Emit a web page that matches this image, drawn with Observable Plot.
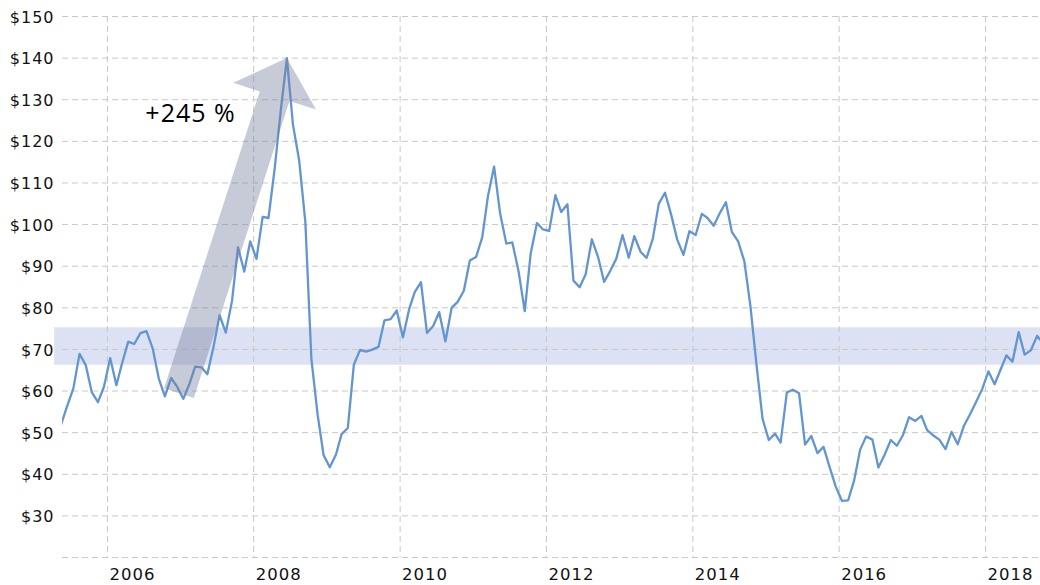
<!DOCTYPE html>
<html>
<head>
<meta charset="utf-8">
<script src="https://cdn.jsdelivr.net/npm/d3@7"></script>
<script src="https://cdn.jsdelivr.net/npm/@observablehq/plot@0.6"></script>
<style>
  html, body { margin: 0; padding: 0; background: #fff; }
  #chart { width: 1040px; height: 585px; }
</style>
</head>
<body>
<div id="chart"></div>
<script>
// Monthly closing price, first value = May 2005, last = Oct 2018
const firstMonth = [2005, 4];
const prices = [
  51.97, 56.50, 60.57, 68.94, 66.24, 59.76, 57.32, 61.04,
  67.92, 61.41, 66.63, 71.88, 71.29, 73.93, 74.40, 70.26, 62.91, 58.73, 63.13, 61.05,
  58.14, 61.79, 65.87, 65.71, 64.01, 70.68, 78.21, 74.04, 81.66, 94.53, 88.71, 95.98,
  91.75, 101.84, 101.58, 113.46, 127.35, 140.00, 124.08, 115.46, 100.64, 67.81, 54.43, 44.60,
  41.68, 44.76, 49.66, 51.12, 66.31, 69.89, 69.45, 69.96, 70.61, 77.00, 77.28, 79.36,
  72.89, 79.66, 83.76, 86.15, 73.97, 75.63, 78.95, 71.92, 79.97, 81.43, 84.11, 91.38,
  92.19, 96.97, 106.72, 113.93, 102.70, 95.42, 95.70, 88.81, 79.20, 93.19, 100.36, 98.83,
  98.48, 107.07, 103.02, 104.87, 86.53, 84.96, 88.06, 96.47, 92.19, 86.24, 88.91, 91.82,
  97.49, 92.05, 97.23, 93.46, 91.97, 96.56, 105.03, 107.65, 102.33, 96.38, 92.72, 98.42,
  97.49, 102.59, 101.58, 99.74, 102.71, 105.37, 98.17, 95.96, 91.16, 80.54, 66.15, 53.27,
  48.24, 49.76, 47.60, 59.63, 60.30, 59.47, 47.12, 49.20, 45.09, 46.59, 41.65, 37.04,
  33.62, 33.75, 38.34, 45.92, 49.10, 48.33, 41.60, 44.70, 48.24, 46.86, 49.44, 53.72,
  52.81, 54.01, 50.60, 49.33, 48.32, 46.04, 50.17, 47.23, 51.67, 54.38, 57.40, 60.46,
  64.73, 61.64, 64.94, 68.57, 67.04, 74.15, 68.76, 69.80, 73.25, 71.50
];
const yearTicks = [2006, 2008, 2010, 2012, 2014, 2016, 2018];
const priceLabels = [30, 40, 50, 60, 70, 80, 90, 100, 110, 120, 130, 140, 150];
const priceGrid = [20, ...priceLabels];
const xDomain = ["2005-05-22", "2018-10-02"];
const yDomain = [20, 150];
const band = { from: "2005-04-13", to: "2018-10-02", low: 66.2, high: 75.2 };
const arrowTail = { date: "2006-12-24", price: 59.5 };
const annotation = { date: "2007-02-20", price: 126.6, text: "+245 %" };

const W = 1040, H = 585, mL = 62, mR = 0, mT = 16, mB = 28;

const data = prices.map((p, i) => ({
  date: new Date(Date.UTC(firstMonth[0], firstMonth[1] + i, 15)),
  price: p
}));
const years = yearTicks.map(y => new Date(Date.UTC(y, 0, 1)));
const xDom = xDomain.map(d => new Date(d + "T00:00:00Z"));

// scales identical to the plot's, used to shape the arrow annotation
const sx = Plot.scale({x: {type: "utc", domain: xDom, range: [mL, W - mR]}});
const sy = Plot.scale({y: {type: "linear", domain: yDomain, range: [H - mB, mT]}});
const peak = d3.greatest(data, d => d.price);
const T = [sx.apply(new Date(arrowTail.date + "T00:00:00Z")), sy.apply(arrowTail.price)];
const P = [sx.apply(peak.date), sy.apply(peak.price)];
const len = Math.hypot(P[0] - T[0], P[1] - T[1]);
const u = [(P[0] - T[0]) / len, (P[1] - T[1]) / len];
const n = [-u[1], u[0]];
const hw = 15.6, headLen = 40, headHW = 43.5;
const B = [P[0] - headLen * u[0], P[1] - headLen * u[1]];
const off = (p, k) => [p[0] + k * n[0], p[1] + k * n[1]];
const arrowPx = [off(T, -hw), off(B, -hw), off(B, -headHW), P, off(B, headHW), off(B, hw), off(T, hw), off(T, -hw)];
const arrowPts = arrowPx.map(([px, py]) => ({date: sx.invert(px), price: sy.invert(py)}));

const chart = Plot.plot({
  width: W, height: H,
  marginLeft: mL, marginRight: mR, marginTop: mT, marginBottom: mB,
  style: {fontFamily: "DejaVu Sans", color: "#111", background: "#fff", letterSpacing: "1px"},
  x: {type: "utc", domain: xDom},
  y: {type: "linear", domain: yDomain},
  marks: [
    Plot.rect([band], {
      x1: d => new Date(d.from + "T00:00:00Z"), x2: d => new Date(d.to + "T00:00:00Z"),
      y1: "low", y2: "high", fill: "#dce2f3"
    }),
    Plot.gridY({ticks: priceGrid, stroke: "#c8c8c8", strokeOpacity: 1, strokeDasharray: "6,4", strokeWidth: 1}),
    Plot.gridX({ticks: years, stroke: "#c8c8c8", strokeOpacity: 1, strokeDasharray: "6,4", strokeWidth: 1}),
    Plot.line(data, {x: "date", y: "price", stroke: "#6396d0", strokeWidth: 2.3, clip: true}),
    Plot.line(arrowPts, {x: "date", y: "price", fill: "#7a819f", fillOpacity: 0.42, stroke: "none", curve: "linear"}),
    Plot.text([annotation], {
      x: d => new Date(d.date + "T00:00:00Z"), y: "price", text: "text",
      fontFamily: "Open Sans", fontSize: 25, fill: "#000", textAnchor: "middle"
    }),
    Plot.axisY({ticks: priceLabels, tickFormat: d => "$" + d, tickSize: 0, tickPadding: 8, fontSize: 16, dy: 1}),
    Plot.axisX({ticks: years, tickFormat: d3.utcFormat("%Y"), tickSize: 0, tickPadding: 11, fontSize: 16.5, textAnchor: "start", dx: 2})
  ]
});
document.getElementById("chart").appendChild(chart);
</script>
</body>
</html>
